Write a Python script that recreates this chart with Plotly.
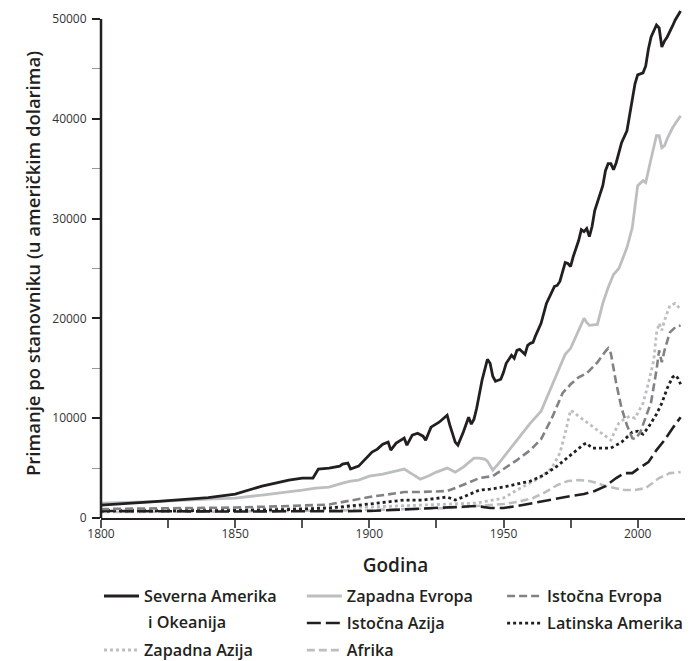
import plotly.graph_objects as go

# ---------------- data ----------------
na_years = [1800,1810,1820,1830,1840,1850,1855,1860,1865,1870,1875,1879,1881,1885,1889,1890,1892,1893,1896,1899,
            1901,1903,1905,1907,1908,1910,1913,1914,1916,1918,1920,1921,1923,1926,1929,1930,1932,1933,1935,1937,
            1938,1939,1940,1942,1944,1945,1946,1947,1949,1950,1951,1953,1954,1955,1956,1958,1959,1960,1961,1962,
            1964,1966,1968,1969,1970,1971,1973,1974,1975,1976,1978,1979,1980,1981,1982,1983,1984,1985,1987,1988,
            1989,1990,1991,1992,1994,1996,1997,1998,1999,2000,2002,2003,2004,2005,2007,2008,2009,2010,2011,2013,
            2014,2016]
na_vals = [1300,1450,1650,1850,2050,2400,2800,3200,3500,3800,4000,4000,4900,5000,5200,5400,5500,4900,5200,6000,
           6600,6900,7400,7600,6800,7500,8000,7300,8300,8500,8200,7800,9100,9600,10300,9300,7600,7300,8600,10100,
           9400,9900,11000,13800,15900,15500,14200,13700,13900,14600,15500,16300,16000,16800,16900,16400,17300,17500,17600,18300,
           19500,21500,22600,23200,23300,23700,25600,25500,25200,26200,27800,28900,28700,29000,28200,29200,30800,31600,33300,34800,
           35500,35500,34900,35600,37600,38800,40300,41700,43500,44400,44600,45300,47000,48200,49400,49100,47200,47800,48200,49300,
           49900,50800]

we_years = [1800,1820,1840,1850,1860,1870,1875,1880,1885,1890,1893,1896,1900,1905,1910,1913,1916,1918,1919,1922,
            1925,1929,1932,1935,1939,1941,1943,1944,1946,1948,1950,1955,1960,1964,1970,1973,1975,1978,1980,1981,
            1982,1985,1987,1989,1991,1993,1996,1998,2000,2002,2003,2005,2007,2008,2009,2010,2011,2013,2016]
we_vals = [1500,1650,1900,2000,2300,2600,2800,3000,3100,3500,3700,3800,4200,4400,4700,4900,4400,4100,3900,4200,
           4600,5000,4600,5100,6000,6000,5900,5700,4800,5400,6100,7800,9500,10700,14500,16400,17000,18700,20000,19600,
           19300,19400,21500,23100,24400,25000,27100,29100,33300,33800,33600,36000,38300,38300,37100,37300,38000,39100,40300]

ee_years = [1800,1825,1850,1870,1885,1900,1913,1918,1929,1933,1941,1946,1950,1955,1960,1964,1968,1972,1975,1978,
            1981,1985,1988,1989,1990,1991,1992,1994,1996,1998,1999,2001,2003,2005,2007,2008,2009,2010,2012,2014,2016]
ee_vals = [900,950,1050,1200,1350,2100,2600,2600,2700,3100,4000,4200,4900,5800,6800,7900,10000,12500,13400,14100,
           14500,15600,16700,17000,16500,15000,13500,11000,9300,8000,7900,8600,10000,11600,14800,16800,15600,16800,18600,19100,19300]

ea_years = [1800,1850,1900,1913,1930,1940,1945,1950,1955,1961,1965,1970,1975,1980,1984,1988,1992,1995,1998,2000,
            2004,2007,2010,2013,2016]
ea_vals = [700,650,700,850,1100,1200,1000,1000,1200,1500,1700,2000,2200,2400,2700,3200,4000,4500,4500,4900,
           5600,6800,7800,9000,10100]

la_years = [1800,1850,1870,1885,1900,1913,1920,1929,1932,1935,1941,1945,1950,1955,1960,1965,1970,1975,1980,1981,
            1983,1985,1990,1994,1998,2000,2002,2004,2007,2009,2011,2013,2014,2015,2016]
la_vals = [700,750,850,1000,1400,1800,1800,2100,1800,2100,2800,2900,3100,3400,3700,4300,5200,6300,7400,7500,
           7000,7000,7000,7600,8600,8700,8400,9100,10400,11500,13000,14100,14300,14000,13400]

wa_years = [1800,1850,1900,1913,1930,1940,1950,1955,1960,1964,1968,1971,1973,1974,1975,1976,1978,1980,1982,1984,
            1986,1988,1990,1991,1993,1995,1997,1999,2000,2002,2004,2006,2007,2008,2009,2010,2012,2014,2016]
wa_vals = [800,900,1100,1200,1400,1500,2000,2800,3500,4100,5000,6500,8500,9800,10800,10600,10200,9800,9400,9000,
           8600,8200,7800,8400,9500,9900,10200,10000,10500,11500,13500,15800,18500,19500,18800,19800,21300,21500,20900]

af_years = [1800,1850,1900,1913,1930,1940,1950,1955,1961,1965,1970,1974,1978,1982,1985,1988,1991,1995,1999,2003,
            2006,2008,2012,2016]
af_vals = [600,650,800,900,1000,1200,1400,1600,2000,2500,3300,3700,3800,3700,3500,3200,3000,2800,2800,3000,
           3600,4000,4500,4600]

x_tick_vals = [1800, 1850, 1900, 1950, 2000]
y_tick_vals = [0, 10000, 20000, 30000, 40000, 50000]

BLACK = "#231f20"
LIGHT = "#bcbec0"
MID = "#808285"
FONT = "Open Sans"

fig = go.Figure()

def add(name, xs, ys, color, dash, width, legend, rank):
    fig.add_trace(go.Scatter(
        x=xs, y=ys, mode="lines", name=name,
        line=dict(color=color, dash=dash, width=width),
        legend=legend, legendgroup=name, legendrank=rank, showlegend=True,
        hoverinfo="skip"))

add("Afrika", af_years, af_vals, LIGHT, "8px,4px", 2.6, "legend2", 3)
add("Zapadna Azija", wa_years, wa_vals, LIGHT, "3px,3px", 2.8, "legend4", 1)
add("Istočna Azija", ea_years, ea_vals, BLACK, "14px,5px", 2.6, "legend2", 2)
add("Latinska Amerika", la_years, la_vals, BLACK, "3px,3px", 2.8, "legend3", 2)
add("Istočna Evropa", ee_years, ee_vals, MID, "8px,4px", 2.6, "legend3", 1)
add("Zapadna Evropa", we_years, we_vals, LIGHT, "solid", 2.8, "legend2", 1)
add("Severna Amerika", na_years, na_vals, BLACK, "solid", 2.8, "legend", 1)

leg_font = dict(family=FONT, size=16.2, color=BLACK, weight=600)
def leg(x, y):
    return dict(x=x, y=y, xanchor="left", yanchor="top", orientation="v",
                font=leg_font, tracegroupgap=3, valign="middle",
                bgcolor="rgba(0,0,0,0)", borderwidth=0, itemwidth=35)

LY1 = -0.1198
LY3 = -0.2259

fig.update_layout(
    width=685, height=653,
    showlegend=True,
    margin=dict(l=93, r=3, t=1, b=143, autoexpand=False),
    paper_bgcolor="white", plot_bgcolor="white",
    font=dict(family=FONT, color=BLACK),
    legend=leg(-0.0034, LY1),
    legend2=leg(0.341, LY1),
    legend3=leg(0.681, LY1),
    legend4=leg(-0.0034, LY3),
    annotations=[dict(text="i Okeanija", xref="paper", yref="paper", x=0.0764, y=-0.2043,
                      xanchor="left", yanchor="middle", showarrow=False,
                      font=leg_font)],
    xaxis=dict(
        range=[1800, 2019.5], tickvals=x_tick_vals, ticktext=[str(v) for v in x_tick_vals],
        showline=True, linecolor=BLACK, linewidth=2, mirror=False, automargin=False,
        ticks="outside", ticklen=8, tickwidth=1.5, tickcolor="#555", ticklabelstandoff=-4,
        minor=dict(tick0=1800, dtick=25, ticks="outside", ticklen=8, tickwidth=1.5, tickcolor="#555"),
        showgrid=False, zeroline=False,
        tickfont=dict(family=FONT, size=12, color="#333"),
        title=dict(text="Godina", font=dict(family=FONT, size=19, color=BLACK, weight=600), standoff=17),
    ),
    yaxis=dict(
        range=[0, 51000], tickvals=y_tick_vals, ticktext=[str(v) for v in y_tick_vals],
        showline=False, automargin=False, ticks="outside", ticklen=8, tickwidth=1.5, tickcolor=BLACK,
        ticklabelstandoff=3,
        minor=dict(tick0=0, dtick=5000, ticks="outside", ticklen=8, tickwidth=1.2, tickcolor="#999"),
        showgrid=False, zeroline=False,
        tickfont=dict(family=FONT, size=12, color="#333"),
        title=dict(text="Primanje po stanovniku (u američkim dolarima)",
                   font=dict(family=FONT, size=18.5, color=BLACK, weight=600), standoff=6),
    ),
    shapes=[dict(type="line", xref="paper", yref="y", x0=0, x1=0, y0=0, y1=50000,
                 line=dict(color=BLACK, width=2.5), layer="above")],
)

fig.write_html("out.html")
